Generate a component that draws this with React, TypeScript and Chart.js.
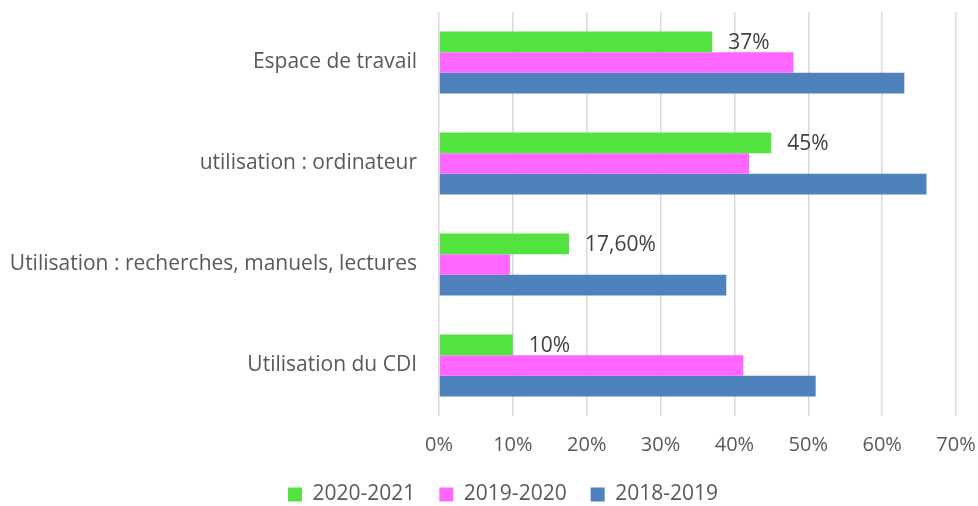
import React, { useEffect, useRef } from "react";
import { Chart, registerables } from "chart.js";

Chart.register(...registerables);

const categories = [
  "Espace de travail",
  "utilisation : ordinateur",
  "Utilisation : recherches, manuels, lectures",
  "Utilisation du CDI",
];
const seriesNames = ["2020-2021", "2019-2020", "2018-2019"];
const values2020 = [37, 45, 17.6, 10];
const values2019 = [48, 42, 9.6, 41.2];
const values2018 = [63, 66, 38.9, 51];
const labels2020 = ["37%", "45%", "17,60%", "10%"];
const xTicks = [0, 10, 20, 30, 40, 50, 60, 70];

const FONT = "'Open Sans', sans-serif";

const dataLabelPlugin = {
  id: "greenLabels",
  afterLayout(chart: any) {
    if (chart.legend) {
      chart.legend.left += 25;
      chart.legend.right += 25;
      chart.legend.top += 9;
      chart.legend.bottom += 9;
    }
  },
  afterDatasetsDraw(chart: any) {
    const meta = chart.getDatasetMeta(0);
    const ctx = chart.ctx;
    ctx.save();
    ctx.font = `21px ${FONT}`;
    ctx.fillStyle = "#404040";
    ctx.textAlign = "left";
    ctx.textBaseline = "middle";
    meta.data.forEach((bar: any, i: number) => {
      ctx.fillText(labels2020[i], bar.x + 16, bar.y + 1);
    });
    ctx.restore();
  },
};

export default function App() {
  const ref = useRef<HTMLCanvasElement | null>(null);
  useEffect(() => {
    if (!ref.current) return;
    const chart = new Chart(ref.current, {
      type: "bar",
      data: {
        labels: categories,
        datasets: [
          { label: seriesNames[0], data: values2020, backgroundColor: "#52E341" },
          { label: seriesNames[1], data: values2019, backgroundColor: "#FF66FF" },
          { label: seriesNames[2], data: values2018, backgroundColor: "#4F81BD" },
        ],
      },
      options: {
        indexAxis: "y",
        animation: false,
        responsive: false,
        maintainAspectRatio: false,
        datasets: {
          bar: { categoryPercentage: 0.615, barPercentage: 1, borderWidth: 0 },
        },
        layout: { padding: { top: 12, right: 22, bottom: 0, left: 0 } },
        scales: {
          x: {
            min: 0,
            max: 70,
            afterBuildTicks: (scale: any) => {
              scale.ticks = xTicks.map((v) => ({ value: v }));
            },
            afterFit: (scale: any) => {
              scale.height = 35;
              scale.paddingLeft = 0;
              scale.paddingRight = 0;
            },
            ticks: {
              callback: (v: any) => `${v}%`,
              color: "#595959",
              font: { family: FONT, size: 20 },
              padding: 17,
              maxRotation: 0,
            },
            grid: { color: "#d9d9d9", lineWidth: 1.5, drawTicks: false },
            border: { display: false },
          },
          y: {
            afterFit: (scale: any) => {
              scale.width = 439;
              scale.paddingTop = 0;
              scale.paddingBottom = 0;
            },
            ticks: {
              color: "#595959",
              font: { family: FONT, size: 21 },
              padding: 22,
            },
            grid: { display: false, drawTicks: false },
            border: { display: false },
          },
        },
        plugins: {
          legend: {
            position: "bottom",
            labels: {
              boxWidth: 14,
              boxHeight: 14,
              color: "#595959",
              font: { family: FONT, size: 21 },
              padding: 24,
            },
          },
          tooltip: { enabled: false },
        },
      },
      plugins: [dataLabelPlugin],
    });
    return () => chart.destroy();
  }, []);
  return (
    <div style={{ position: "fixed", left: 0, top: 0, width: 978, height: 506, background: "#fff" }}>
      <canvas ref={ref} width={978} height={506} />
    </div>
  );
}
